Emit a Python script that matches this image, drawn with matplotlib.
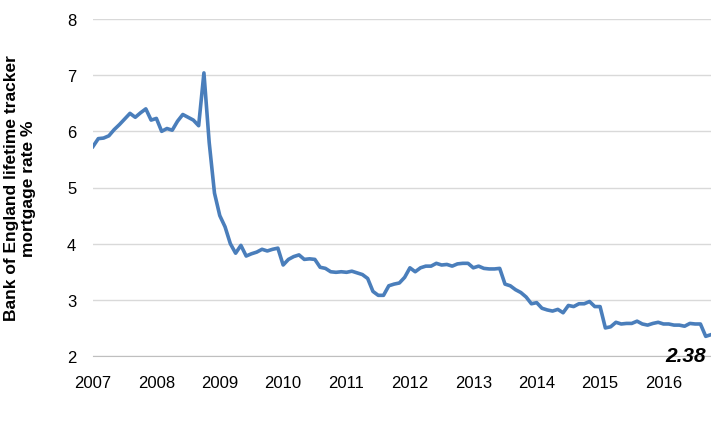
import matplotlib
matplotlib.use("Agg")
import matplotlib.pyplot as plt
import numpy as np
plt.rcParams["font.family"] = "Liberation Sans"

years = ["2007","2008","2009","2010","2011","2012","2013","2014","2015","2016"]
rates = [5.73,5.87,5.88,5.92,6.03,6.12,6.22,6.32,6.25,6.33,6.40,6.20,
 6.23,6.00,6.05,6.02,6.18,6.30,6.25,6.20,6.10,7.04,5.80,4.90,
 4.50,4.30,4.00,3.83,3.97,3.78,3.82,3.85,3.90,3.87,3.90,3.92,
 3.62,3.72,3.77,3.80,3.72,3.73,3.72,3.58,3.56,3.50,3.49,3.50,
 3.49,3.51,3.48,3.45,3.38,3.15,3.08,3.08,3.25,3.28,3.30,3.40,
 3.57,3.50,3.57,3.60,3.60,3.65,3.62,3.63,3.60,3.64,3.65,3.65,
 3.57,3.60,3.56,3.55,3.55,3.56,3.28,3.25,3.18,3.13,3.05,2.93,
 2.95,2.85,2.82,2.80,2.83,2.77,2.90,2.88,2.93,2.93,2.97,2.88,
 2.88,2.50,2.52,2.60,2.57,2.58,2.58,2.62,2.57,2.55,2.58,2.60,
 2.57,2.57,2.55,2.55,2.53,2.58,2.57,2.57,2.35,2.38]
last_label = "2.38"

fig = plt.figure(figsize=(7.11,4.31), dpi=100)
ax = fig.add_axes([93/711, 1-357/431, (711-93)/711, (357-20)/431])
x = np.arange(len(rates))
ax.plot(x, rates, color="#4a7ebb", lw=2.6, solid_joinstyle="round")
ax.set_ylim(2, 8)
ax.set_xlim(0, len(rates)-1)
ax.set_yticks(range(2, 9))
ax.set_xticks([12*i for i in range(len(years))])
ax.set_xticklabels(years)
ax.tick_params(axis="both", labelsize=12, length=0, colors="black")
ax.tick_params(axis="x", pad=14)
ax.tick_params(axis="y", pad=12)
ax.yaxis.grid(True, color="#d9d9d9", lw=1)
ax.set_axisbelow(True)
for s in ["top", "right", "left"]:
    ax.spines[s].set_visible(False)
ax.spines["bottom"].set_color("#bfbfbf")
ax.set_ylabel("Bank of England lifetime tracker\nmortgage rate %", fontsize=12.5, fontweight="bold", labelpad=22)
ax.text(x[-1]-1, 2.0, last_label, fontsize=15, fontstyle="italic", fontweight="bold",
        ha="right", va="center")
fig.savefig("out.png", dpi=100)
